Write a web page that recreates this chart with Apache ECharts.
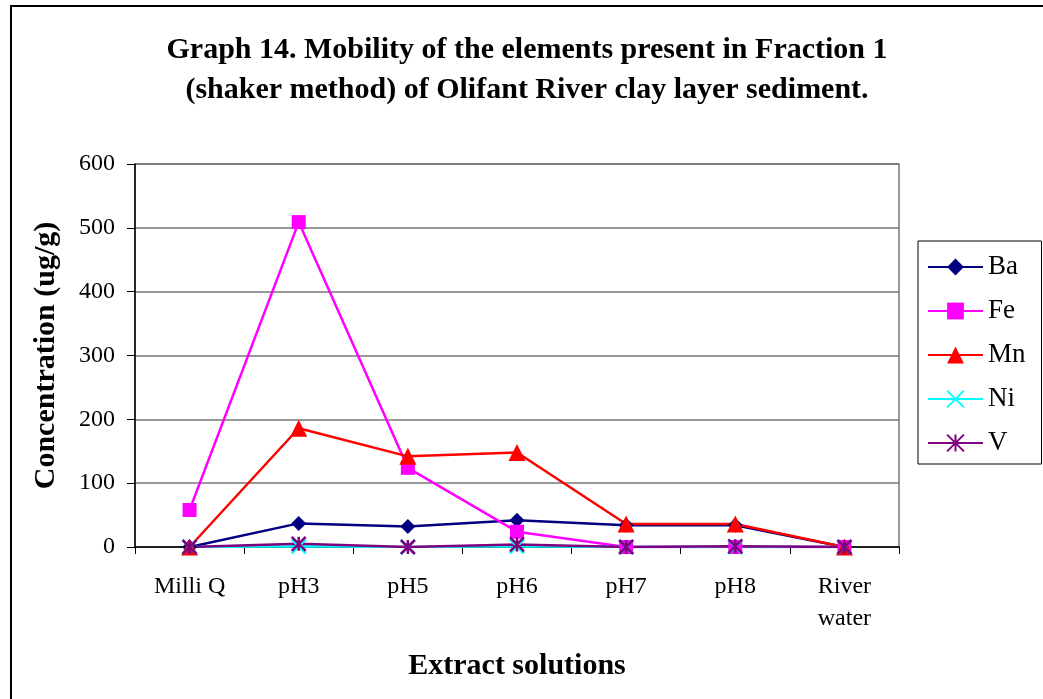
<!DOCTYPE html>
<html>
<head>
<meta charset="utf-8">
<script src="https://cdn.jsdelivr.net/npm/echarts@6/dist/echarts.min.js"></script>
<style>
  html, body { margin: 0; padding: 0; background: #fff; }
  #chart { width: 1043px; height: 699px; }
</style>
</head>
<body>
<div id="chart"></div>
<script>
// Extract solutions used for the shaker-method leach
const categories = ['Milli Q', 'pH3', 'pH5', 'pH6', 'pH7', 'pH8', 'River\nwater'];

// Concentration (ug/g) of each element per extract solution
const ba = [0, 37, 32, 42, 34, 34, 0];
const fe = [58, 509, 124, 24, 0, 0, 0];
const mn = [0, 186, 142, 148, 36, 36, 0];
const ni = [0, 1, 0, 1, 0, 0, 0];
const v  = [0, 5, 0, 4, 0, 1, 0];

const yTicks = [0, 100, 200, 300, 400, 500, 600];

const SERIF = '"Liberation Serif", "Times New Roman", serif';

const crossPath = 'path://M0 0 L10 10 M10 0 L0 10';
const starPath = 'path://M0 0 L10 10 M10 0 L0 10 M5 0 L5 10';

function lineSeries(name, data, color, symbol, size, stroke) {
  return {
    name: name,
    type: 'line',
    data: data,
    symbol: symbol,
    symbolSize: size,
    showAllSymbol: true,
    lineStyle: { color: color, width: 2.5 },
    itemStyle: stroke
      ? { color: color, borderColor: color, borderWidth: 2.5 }
      : { color: color, borderWidth: 0 },
    emphasis: { disabled: true },
    animation: false
  };
}

const chart = echarts.init(document.getElementById('chart'), null, { renderer: 'canvas' });

chart.setOption({
  backgroundColor: '#ffffff',
  animation: false,
  title: {
    text: 'Graph 14. Mobility of the elements present in Fraction 1\n(shaker method) of Olifant River clay layer sediment.',
    left: 522,
    top: 25,
    textAlign: 'center',
    textStyle: {
      fontFamily: SERIF,
      fontWeight: 'bold',
      fontSize: 30,
      lineHeight: 40,
      color: '#000'
    }
  },
  graphic: [{
    type: 'rect',
    shape: { x: 11, y: 6, width: 1100, height: 800 },
    style: { fill: null, stroke: '#000', lineWidth: 2 },
    silent: true,
    z: -10
  }],
  legend: {
    orient: 'vertical',
    left: 918,
    top: 241,
    data: ['Ba', 'Fe', 'Mn', 'Ni', 'V'],
    itemWidth: 55,
    itemHeight: 21,
    itemGap: 14,
    padding: [11, 16, 6, 9],
    borderColor: '#000',
    borderWidth: 1,
    textStyle: {
      fontFamily: SERIF,
      fontSize: 27,
      lineHeight: 30,
      color: '#000'
    }
  },
  grid: {
    left: 135,
    top: 164,
    width: 764,
    height: 383,
    show: true,
    borderColor: '#777',
    borderWidth: 1.5,
    containLabel: false
  },
  xAxis: {
    type: 'category',
    data: categories,
    boundaryGap: true,
    name: 'Extract solutions',
    nameLocation: 'middle',
    nameGap: 104,
    nameTextStyle: {
      fontFamily: SERIF,
      fontWeight: 'bold',
      fontSize: 30,
      color: '#000'
    },
    axisLine: { lineStyle: { color: '#000', width: 1.5 } },
    axisTick: { show: true, length: 7, interval: 0, lineStyle: { color: '#000' } },
    axisLabel: {
      interval: 0,
      margin: 24,
      fontFamily: SERIF,
      fontSize: 24,
      lineHeight: 32,
      color: '#000'
    },
    splitLine: { show: false }
  },
  yAxis: {
    type: 'value',
    min: yTicks[0],
    max: yTicks[yTicks.length - 1],
    interval: 100,
    name: 'Concentration (ug/g)',
    nameLocation: 'middle',
    nameGap: 74,
    nameRotate: 90,
    nameTextStyle: {
      fontFamily: SERIF,
      fontWeight: 'bold',
      fontSize: 30,
      color: '#000'
    },
    axisLine: { show: true, lineStyle: { color: '#000', width: 1.5 } },
    axisTick: { show: true, length: 8, lineStyle: { color: '#000' } },
    axisLabel: {
      margin: 20,
      fontFamily: SERIF,
      fontSize: 24,
      color: '#000'
    },
    splitLine: { show: true, lineStyle: { color: '#777', width: 1.5 } }
  },
  series: [
    lineSeries('Ba', ba, '#000080', 'diamond', 15, false),
    lineSeries('Fe', fe, '#FF00FF', 'rect', 14, false),
    lineSeries('Mn', mn, '#FF0000', 'triangle', 17, false),
    lineSeries('Ni', ni, '#00FFFF', crossPath, 14, true),
    lineSeries('V', v, '#800080', starPath, 14, true)
  ]
});
</script>
</body>
</html>
